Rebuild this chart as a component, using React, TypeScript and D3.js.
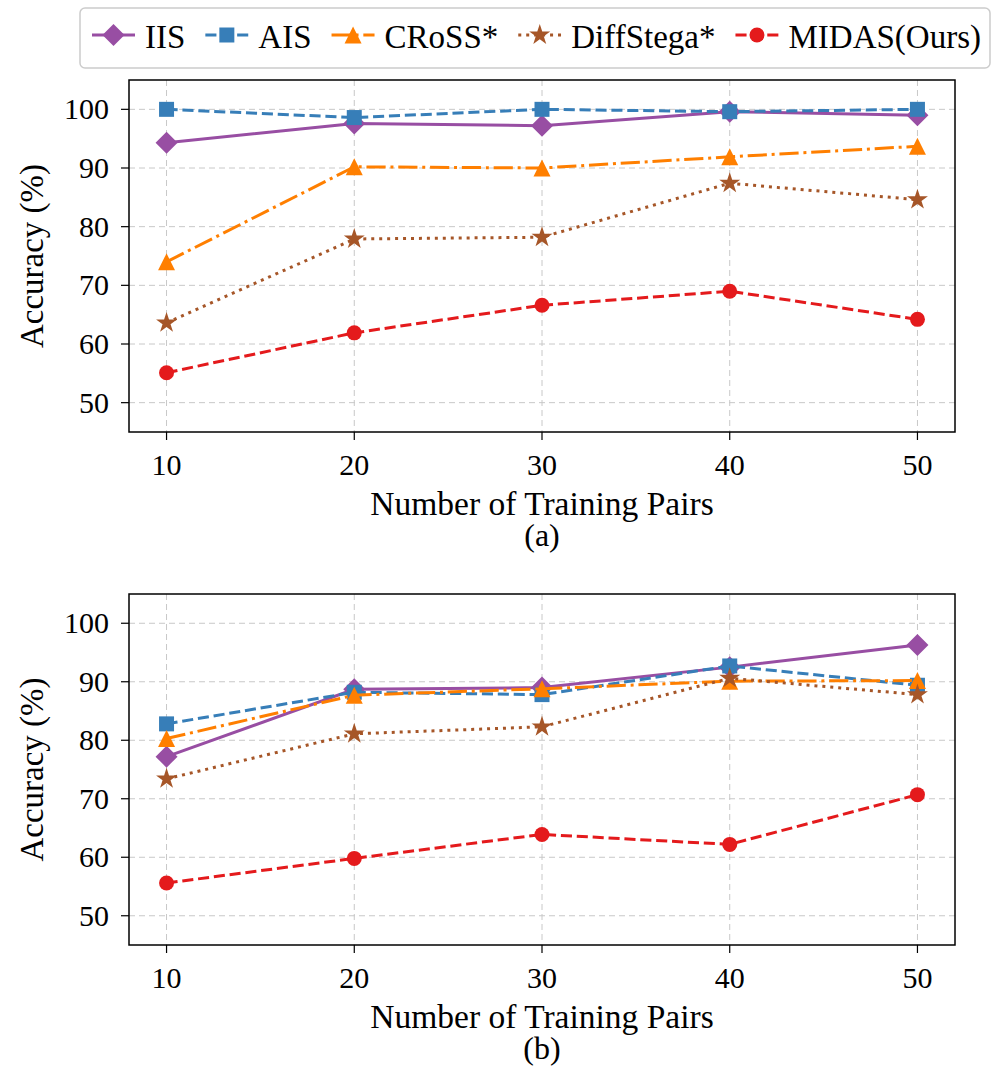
import React, { useEffect, useRef } from 'react';
import * as d3 from 'd3';

const xValues = [10, 20, 30, 40, 50];
const seriesNames = ['IIS', 'AIS', 'CRoSS*', 'DiffStega*', 'MIDAS(Ours)'];
const seriesColors = ['#984ea3', '#377eb8', '#ff7f00', '#a65628', '#e41a1c'];
const seriesMarkers = ['diamond', 'square', 'triangle', 'star', 'circle'];
const seriesDashes = ['', 'dashed', 'dashdot', 'dotted', 'dashed'];

// panel (a)
const iisA = [94.3, 97.6, 97.2, 99.6, 99.0];
const aisA = [100, 98.6, 100, 99.6, 100];
const crossA = [74.0, 90.2, 90.0, 91.9, 93.7];
const diffA = [63.6, 77.9, 78.2, 87.4, 84.6];
const midasA = [55.1, 61.9, 66.6, 69.0, 64.2];

// panel (b)
const iisB = [77.2, 88.7, 89.0, 92.5, 96.3];
const aisB = [82.8, 88.2, 87.8, 92.7, 89.4];
const crossB = [80.3, 87.7, 88.8, 90.1, 90.2];
const diffB = [73.4, 81.1, 82.3, 90.6, 87.8];
const midasB = [55.6, 59.8, 63.9, 62.2, 70.7];

const yTicks = [50, 60, 70, 80, 90, 100];
const xLabel = 'Number of Training Pairs';
const yLabel = 'Accuracy (%)';
const panelCaptions = ['(a)', '(b)'];

const FONT = '"Liberation Serif", "Times New Roman", serif';
const LW = 3;

const dashFor = (kind: string) => {
  if (kind === 'dashed') return `${3.7 * LW},${1.6 * LW}`;
  if (kind === 'dashdot') return `${6.4 * LW},${1.6 * LW},${1 * LW},${1.6 * LW}`;
  if (kind === 'dotted') return `${1 * LW},${1.65 * LW}`;
  return null;
};

const markerPath = (kind: string) => {
  if (kind === 'diamond') {
    const r = 11;
    return `M0,${-r}L${r},0L0,${r}L${-r},0Z`;
  }
  if (kind === 'square') {
    const h = 7.5;
    return `M${-h},${-h}H${h}V${h}H${-h}Z`;
  }
  if (kind === 'triangle') {
    const h = 8.5;
    return `M0,${-h}L${h},${h}L${-h},${h}Z`;
  }
  if (kind === 'star') {
    const ro = 11, ri = ro * 0.382;
    const pts = d3.range(10).map(i => {
      const a = -Math.PI / 2 + i * Math.PI / 5;
      const r = i % 2 === 0 ? ro : ri;
      return [r * Math.cos(a), r * Math.sin(a)];
    });
    return 'M' + pts.map(p => p.join(',')).join('L') + 'Z';
  }
  return d3.symbol().type(d3.symbolCircle).size(Math.PI * 7.5 * 7.5)();
};

const App = () => {
  const svgRef = useRef<SVGSVGElement>(null);

  useEffect(() => {
    const svg = d3.select(svgRef.current);
    svg.selectAll('*').remove();

    const left = 129;
    const right = 955;
    const panels = [
      { top: 80, bottom: 432, data: [iisA, aisA, crossA, diffA, midasA] },
      { top: 594, bottom: 945, data: [iisB, aisB, crossB, diffB, midasB] },
    ];

    const x = d3.scaleLinear().domain([8, 52]).range([left, right]);

    panels.forEach((p, pi) => {
      const y = d3.scaleLinear().domain([45, 105]).range([p.bottom, p.top]);
      const g = svg.append('g');

      // grid
      g.selectAll('.gy').data(yTicks).enter().append('line')
        .attr('x1', left).attr('x2', right)
        .attr('y1', d => y(d)).attr('y2', d => y(d))
        .attr('stroke', '#c8c8c8').attr('stroke-width', 1)
        .attr('stroke-dasharray', '6,4');
      g.selectAll('.gx').data(xValues).enter().append('line')
        .attr('y1', p.top).attr('y2', p.bottom)
        .attr('x1', d => x(d)).attr('x2', d => x(d))
        .attr('stroke', '#c8c8c8').attr('stroke-width', 1)
        .attr('stroke-dasharray', '6,4');

      // series
      p.data.forEach((vals, si) => {
        const line = d3.line<number>().x((_, i) => x(xValues[i])).y(d => y(d));
        g.append('path')
          .attr('d', line(vals))
          .attr('fill', 'none')
          .attr('stroke', seriesColors[si])
          .attr('stroke-width', LW)
          .attr('stroke-dasharray', dashFor(seriesDashes[si]));
        g.selectAll(null).data(vals).enter().append('path')
          .attr('d', markerPath(seriesMarkers[si]))
          .attr('transform', (d, i) => `translate(${x(xValues[i])},${y(d)})`)
          .attr('fill', seriesColors[si]);
      });

      // frame
      g.append('rect')
        .attr('x', left).attr('y', p.top)
        .attr('width', right - left).attr('height', p.bottom - p.top)
        .attr('fill', 'none').attr('stroke', '#000').attr('stroke-width', 1.5);

      // y ticks
      g.selectAll('.ty').data(yTicks).enter().append('line')
        .attr('x1', left - 8).attr('x2', left)
        .attr('y1', d => y(d)).attr('y2', d => y(d))
        .attr('stroke', '#000').attr('stroke-width', 1.2);
      g.selectAll('.tyl').data(yTicks).enter().append('text')
        .attr('x', left - 20).attr('y', d => y(d) + 10)
        .attr('text-anchor', 'end')
        .attr('font-family', FONT).attr('font-size', 30)
        .text(d => d);

      // x ticks
      g.selectAll('.tx').data(xValues).enter().append('line')
        .attr('x1', d => x(d)).attr('x2', d => x(d))
        .attr('y1', p.bottom).attr('y2', p.bottom + 8)
        .attr('stroke', '#000').attr('stroke-width', 1.2);
      g.selectAll('.txl').data(xValues).enter().append('text')
        .attr('x', d => x(d)).attr('y', p.bottom + 43)
        .attr('text-anchor', 'middle')
        .attr('font-family', FONT).attr('font-size', 30)
        .text(d => d);

      g.append('text')
        .attr('x', (left + right) / 2).attr('y', p.bottom + 83)
        .attr('text-anchor', 'middle')
        .attr('font-family', FONT).attr('font-size', 33.5)
        .text(xLabel);
      g.append('text')
        .attr('x', (left + right) / 2).attr('y', p.bottom + 114)
        .attr('text-anchor', 'middle')
        .attr('font-family', FONT).attr('font-size', 32)
        .text(panelCaptions[pi]);

      g.append('text')
        .attr('transform', `translate(43,${(p.top + p.bottom) / 2}) rotate(-90)`)
        .attr('text-anchor', 'middle')
        .attr('font-family', FONT).attr('font-size', 33)
        .text(yLabel);
    });

    // legend
    const lg = svg.append('g');
    lg.append('rect')
      .attr('x', 80).attr('y', 8).attr('width', 910).attr('height', 60)
      .attr('rx', 5)
      .attr('fill', '#fff').attr('stroke', '#cccccc').attr('stroke-width', 1.5);
    let cx = 92;
    const ly = 35;
    seriesNames.forEach((name, si) => {
      lg.append('line')
        .attr('x1', cx).attr('x2', cx + 43)
        .attr('y1', ly).attr('y2', ly)
        .attr('stroke', seriesColors[si]).attr('stroke-width', LW)
        .attr('stroke-dasharray', dashFor(seriesDashes[si]));
      lg.append('path')
        .attr('d', markerPath(seriesMarkers[si]))
        .attr('transform', `translate(${cx + 21.5},${ly})`)
        .attr('fill', seriesColors[si]);
      const t = lg.append('text')
        .attr('x', cx + 53).attr('y', ly + 13)
        .attr('font-family', FONT).attr('font-size', 33)
        .text(name);
      const w = (t.node() as SVGTextElement).getComputedTextLength();
      cx = cx + 53 + w + 20;
    });
  }, []);

  return (
    <svg ref={svgRef} width={992} height={1069}
      style={{ position: 'absolute', left: 0, top: 0, background: '#fff' }} />
  );
};

export default App;
